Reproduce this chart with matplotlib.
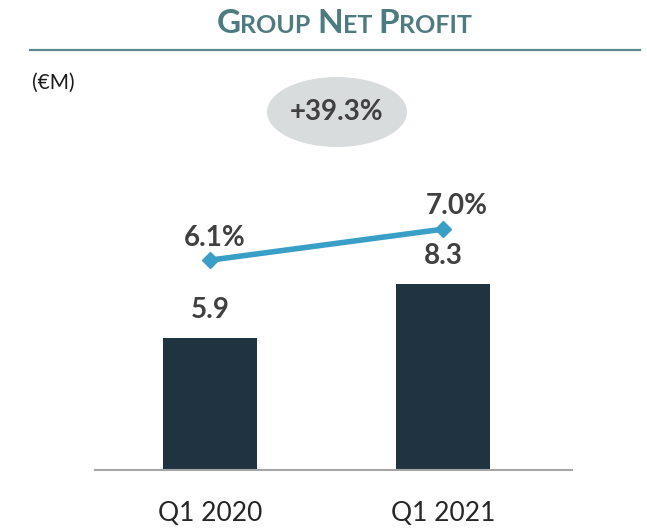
import matplotlib
matplotlib.use("Agg")
import matplotlib.pyplot as plt
from matplotlib.patches import Ellipse
from matplotlib.lines import Line2D

categories = ["Q1 2020", "Q1 2021"]
profit = [5.9, 8.3]
margin = [6.1, 7.0]
profit_labels = ["5.9", "8.3"]
margin_labels = ["6.1%", "7.0%"]
growth_label = "+39.3%"
unit_label = "(€M)"

W, H = 647, 529
FONT = "Lato"
plt.rcParams['font.family'] = [FONT, 'DejaVu Sans']

fig = plt.figure(figsize=(W / 100, H / 100), dpi=100)

def fx(px):
    return px / W

def fy(py):
    return 1 - py / H

ax = fig.add_axes([fx(95), fy(470), fx(572) - fx(95), fy(140) - fy(470)])
x = list(range(len(categories)))
bar_color = "#1f3340"
ax.bar(x, profit, width=0.40, color=bar_color, zorder=2)
ax.set_xlim(-0.4936, 1.554)
ax.set_ylim(0, 330 / 22.4)
for s in ["top", "right", "left"]:
    ax.spines[s].set_visible(False)
ax.spines["bottom"].set_color("#a6a6a6")
ax.spines["bottom"].set_linewidth(1.5)
ax.set_yticks([])
ax.set_xticks(x)
ax.set_xticklabels(categories, fontsize=19, color="#262626")
ax.tick_params(axis="x", length=0, pad=22)

text_color = "#404040"
for xi, v, lab in zip(x, profit, profit_labels):
    ax.annotate(lab, (xi, v), xytext=(0, 28), textcoords="offset pixels",
                ha="center", va="center", fontsize=20, fontweight="bold",
                color=text_color)

ax2 = ax.twinx()
ax2.set_ylim(0, 330 / 34.4)
ax2.axis("off")
line_color = "#399fc6"
ax2.plot(x, margin, color=line_color, linewidth=4, marker="D", markersize=8,
         solid_capstyle="butt", zorder=3)
offsets = [(5, 22), (14, 23)]
for xi, v, lab, off in zip(x, margin, margin_labels, offsets):
    ax2.annotate(lab, (xi, v), xytext=off, textcoords="offset pixels",
                 ha="center", va="center", fontsize=20, fontweight="bold",
                 color=text_color)

# Ellipse with growth
ell = Ellipse((fx(337), fy(112)), fx(140), 70 / H, transform=fig.transFigure,
              facecolor="#d9dcdc", edgecolor="none")
fig.patches.append(ell)
fig.text(fx(337), fy(112), growth_label, ha="center", va="center",
         fontsize=20, fontweight="bold", color=text_color)

# Unit label
fig.text(fx(32), fy(83), unit_label, ha="left", va="center", fontsize=15,
         color="#1a1a1a")

# Title line
fig.add_artist(Line2D([fx(30), fx(640)], [fy(50), fy(50)],
                      transform=fig.transFigure, color="#5b8a8e", linewidth=1.6))

# Small caps title
title_color = "#4d7b80"
pieces = [("G", 24), ("ROUP ", 18), ("N", 24), ("ET ", 18), ("P", 24), ("ROFIT", 18)]
fig.canvas.draw()
renderer = fig.canvas.get_renderer()
widths = []
for s, size in pieces:
    t = fig.text(0, 0, s, fontsize=size, fontweight="bold")
    bb = t.get_window_extent(renderer)
    widths.append(bb.width)
    t.remove()
total = sum(widths)
cur = 344 - total / 2
base_y = fy(33)
for (s, size), w in zip(pieces, widths):
    fig.text(fx(cur), base_y, s, fontsize=size, fontweight="bold",
             color=title_color, ha="left", va="baseline")
    cur += w

fig.savefig("out.png", dpi=100)
